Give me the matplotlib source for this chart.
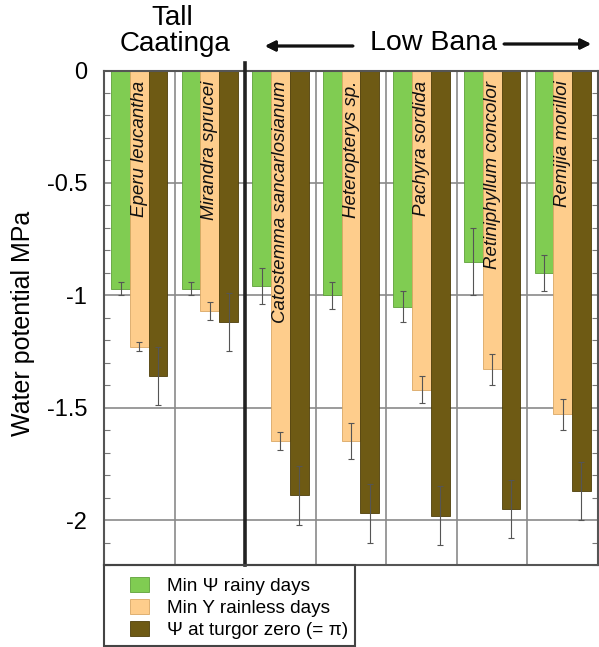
import matplotlib
matplotlib.use("Agg")
import matplotlib.pyplot as plt
from matplotlib.patches import Patch, Rectangle
from matplotlib.ticker import MultipleLocator
import numpy as np

plt.rcParams['font.family'] = ['Liberation Sans', 'DejaVu Sans']
plt.rcParams['axes.unicode_minus'] = False

species = ["Eperu leucantha", "Mirandra sprucei", "Catostemma sancarlosianum",
           "Heteropterys sp.", "Pachyra sordida", "Retiniphyllum concolor",
           "Remijia morilloi"]
rainy = [-0.97, -0.97, -0.96, -1.00, -1.05, -0.85, -0.90]
rainy_err = [0.03, 0.03, 0.08, 0.06, 0.07, 0.15, 0.08]
rainless = [-1.23, -1.07, -1.65, -1.65, -1.42, -1.33, -1.53]
rainless_err = [0.02, 0.04, 0.04, 0.08, 0.06, 0.07, 0.07]
turgor = [-1.36, -1.12, -1.89, -1.97, -1.98, -1.95, -1.87]
turgor_err = [0.13, 0.13, 0.13, 0.13, 0.13, 0.13, 0.13]
series_labels = ["Min \u03a8 rainy days", "Min Y rainless days",
                 "\u03a8 at turgor zero (= \u03c0)"]
yticks = [0, -0.5, -1, -1.5, -2]
ytick_labels = ["0", "-0.5", "-1", "-1.5", "-2"]

colors = ["#80cc52", "#fecd8c", "#6e5a14"]
edges = ["#5fa03a", "#d9a865", "#4e3f0a"]

W, H = 599, 647
fig = plt.figure(figsize=(W / 100, H / 100), dpi=100)
ax = fig.add_axes([104 / W, 1 - 565 / H, 494 / W, (565 - 70.5) / H])

x = np.arange(len(species)) + 0.5
bw = 0.266
for vals, errs, off, c, ec in [(rainy, rainy_err, -bw, colors[0], edges[0]),
                               (rainless, rainless_err, 0, colors[1], edges[1]),
                               (turgor, turgor_err, bw, colors[2], edges[2])]:
    ax.bar(x + off, vals, width=bw, color=c, edgecolor=ec, linewidth=0.6, zorder=2)
    ax.errorbar(x + off, vals, yerr=errs, fmt='none', ecolor='#555555',
                elinewidth=0.8, capsize=2.5, capthick=0.8, zorder=3)

ax.set_xlim(0, len(species))
ax.set_ylim(-2.2, 0)
ax.set_yticks(yticks)
ax.set_yticklabels(ytick_labels, fontsize=17)
ax.yaxis.set_minor_locator(MultipleLocator(0.1))
ax.tick_params(axis='y', which='major', length=0, pad=12, left=True, right=True)
ax.tick_params(axis='y', which='minor', direction='in', length=4, width=0.8,
               color='#777777', left=True, right=True)
ax.set_xticks([])
for yv in yticks[1:]:
    ax.axhline(yv, color='#8a8a8a', lw=1.2, zorder=1)
for xv in [1, 3, 4, 5, 6]:
    ax.axvline(xv, color='#8a8a8a', lw=1.2, zorder=1)
for s in ax.spines.values():
    s.set_color('#555555')
    s.set_linewidth(1.5)

# thick divider between Tall Caatinga and Low Bana
ax.plot([2, 2], [-2.2, 0.035], color='#222222', lw=2.6, zorder=4, clip_on=False)

for xi, name in zip(x, species):
    ax.text(xi, -0.045, name, rotation=90, ha='center', va='top',
            fontsize=13.5, style='italic', color='#111111', zorder=5)

# headers
fig.text(172 / W, 1 - 18 / H, "Tall", ha='center', va='center', fontsize=20)
fig.text(175 / W, 1 - 44 / H, "Caatinga", ha='center', va='center', fontsize=20)
fig.text(433 / W, 1 - 43 / H, "Low Bana", ha='center', va='center', fontsize=20.5)
arrow_kw = dict(arrowstyle='-|>', color='#111111', lw=2, mutation_scale=15,
                shrinkA=0, shrinkB=0)
fig.add_artist(plt.annotate("", xy=(265 / W, 1 - 46 / H), xytext=(353 / W, 1 - 46 / H),
                            xycoords='figure fraction', textcoords='figure fraction',
                            arrowprops=arrow_kw))
fig.add_artist(plt.annotate("", xy=(591 / W, 1 - 44 / H), xytext=(504 / W, 1 - 44 / H),
                            xycoords='figure fraction', textcoords='figure fraction',
                            arrowprops=arrow_kw))

fig.text(23 / W, 1 - 323 / H, "Water potential MPa", rotation=90, ha='center',
         va='center', fontsize=18)

# legend
handles = [Patch(facecolor=c, edgecolor=ec, linewidth=0.6) for c, ec in zip(colors, edges)]
leg = fig.legend(handles, series_labels, loc='upper left',
                 bbox_to_anchor=(115 / W, 1 - 562 / H), frameon=False,
                 fontsize=13.7, handlelength=1.0, handleheight=0.85,
                 handletextpad=0.95, labelspacing=0.2, borderpad=0.3)
fig.add_artist(Rectangle((103.5 / W, 1 - 645.5 / H), 251 / W, 81 / H,
                         transform=fig.transFigure, fill=False,
                         edgecolor='#444444', lw=1.5))

fig.savefig("out.png", dpi=100)
